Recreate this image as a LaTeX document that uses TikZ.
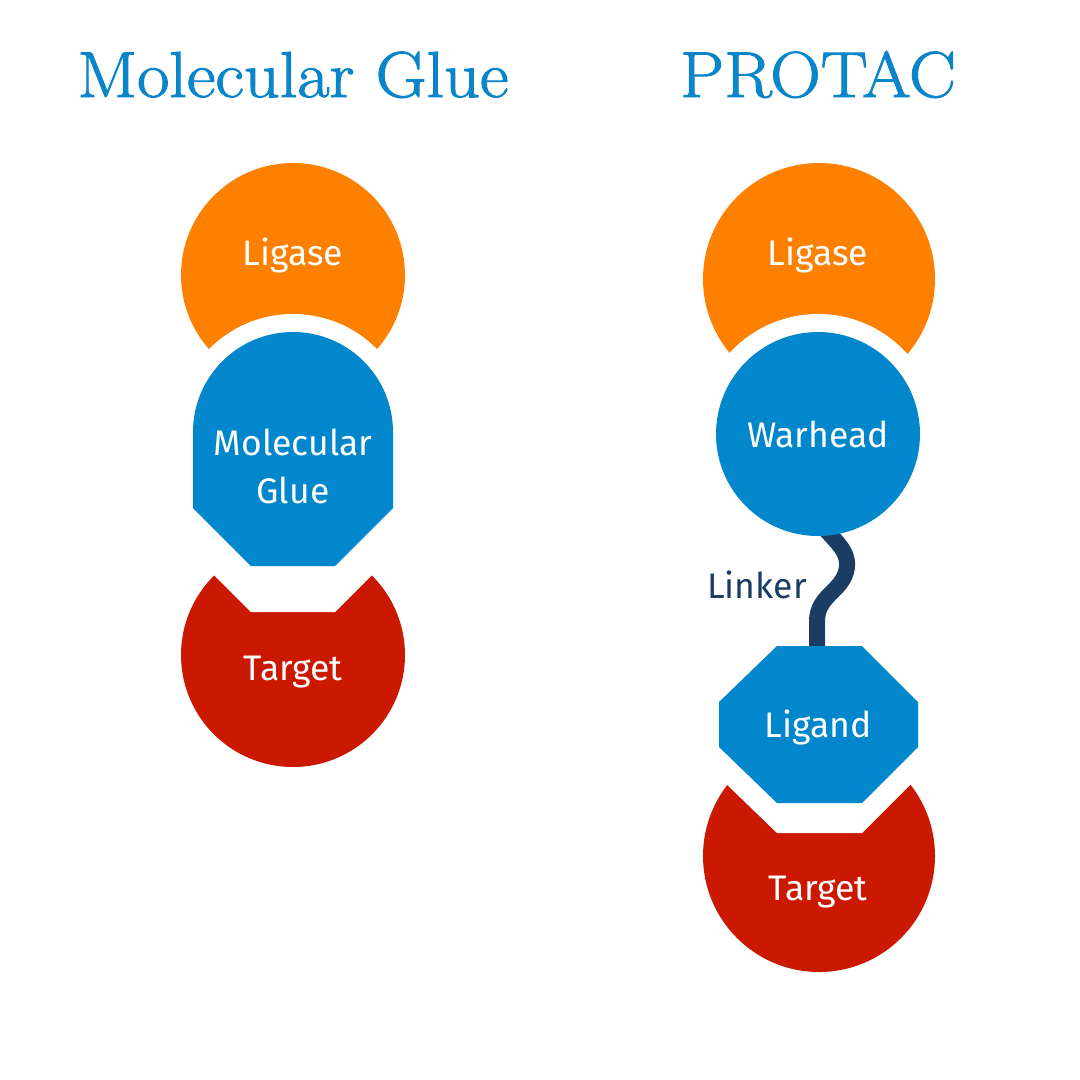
\documentclass[tikz,border=0pt]{standalone}
\usepackage{fontspec}
\newfontfamily\labelfont{Fira Sans}
\newfontfamily\titlefont[FakeBold=1.5]{Latin Modern Roman}
\definecolor{ligorange}{HTML}{FE8001}
\definecolor{molblue}{HTML}{0286CC}
\definecolor{tgtred}{HTML}{CB1800}
\definecolor{linknavy}{HTML}{1B3D63}
\definecolor{titleblue}{HTML}{0A85C9}
\tikzset{
  lbl/.style={text=white, anchor=base, inner sep=0pt, font=\labelfont\fontsize{35.5}{42}\selectfont},
  ttl/.style={text=titleblue, anchor=base, inner sep=0pt, font=\titlefont\fontsize{65}{75}\selectfont},
}
\begin{document}
\begin{tikzpicture}[x=1pt,y=-1pt]
\useasboundingbox (0,0) rectangle (1080,1080);
\fill[white] (0,0) rectangle (1080,1080);

% titles
\node[ttl] (t1) at (293,97) {\scalebox{1.08}[1]{Molecular Glue}};
\node[ttl] (t2) at (818,97) {\scalebox{1.08}[1]{PROTAC}};

% ---------- Molecular glue column ----------
\fill[ligorange] (293,275) circle (112);
\fill[white] (293,432) circle (118);
\fill[tgtred] (293,655) circle (112);
% notch in target
\fill[white] (193,478) arc[start angle=180,end angle=360,radius=100] -- (393,554) -- (335,612) -- (251,612) -- (193,554) -- cycle;
% glue shape
\fill[molblue] (193,432) arc[start angle=180,end angle=360,radius=100] -- (393,508) -- (335,566) -- (251,566) -- (193,508) -- cycle;

\node[lbl] (lig1) at (293,265) {Ligase};
\node[lbl] (mg1) at (293,455) {Molecular};
\node[lbl] (mg2) at (293,503) {Glue};
\node[lbl] (tg1) at (293,680) {Target};

% ---------- PROTAC column ----------
\fill[ligorange] (819,279) circle (116);
\fill[white] (818,434) circle (120);
\fill[tgtred] (819,856) circle (116);
\fill[white] (777,676) -- (862,676) -- (918,732) -- (918,777) -- (862,833) -- (777,833) -- (719,777) -- (719,732) -- cycle;

\coordinate (wbot) at (818,520);
\coordinate (ltop) at (817,660);
\draw[linknavy, line width=16pt] (wbot) .. controls (832,540) and (852,550) .. (846,572)
  .. controls (840,592) and (818,596) .. (817,620) -- (ltop);

\fill[molblue] (818,434) circle (102);
\fill[molblue] (777,646) -- (862,646) -- (918,702) -- (918,747) -- (862,803) -- (777,803) -- (719,747) -- (719,702) -- cycle;

\node[lbl] (lig2) at (818,265) {Ligase};
\node[lbl] (wh) at (818,447) {Warhead};
\node[lbl, text=linknavy] (lk) at (757,598) {Linker};
\node[lbl] (ld) at (818,737) {Ligand};
\node[lbl] (tg2) at (818,900) {Target};
\end{tikzpicture}
\end{document}
